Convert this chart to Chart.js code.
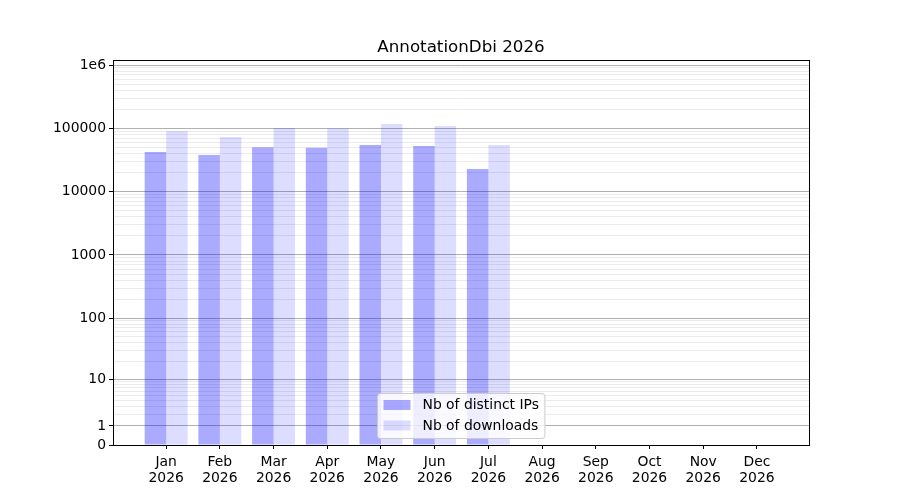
<!DOCTYPE html>
<html>
<head>
<meta charset="utf-8">
<script src="https://cdn.jsdelivr.net/npm/chart.js@4/dist/chart.umd.min.js"></script>
<style>
  html, body { margin: 0; padding: 0; background: #ffffff; }
  #wrap { width: 900px; height: 500px; }
</style>
</head>
<body>
<div id="wrap"><canvas id="c" width="900" height="500"></canvas></div>
<script>
// ---- data ----
const chartTitle = 'AnnotationDbi 2026';
const months = ['Jan', 'Feb', 'Mar', 'Apr', 'May', 'Jun', 'Jul', 'Aug', 'Sep', 'Oct', 'Nov', 'Dec'];
const yearLabel = '2026';
const distinctIPs = [42300, 37900, 50500, 49500, 54500, 52500, 22800];
const downloads = [90600, 72900, 101000, 100000, 117000, 108700, 54500];
const seriesNames = ['Nb of distinct IPs', 'Nb of downloads'];
const yMajorTicks = [0, 1, 10, 100, 1000, 10000, 100000, 1000000];
const yMajorLabels = ['0', '1', '10', '100', '1000', '10000', '100000', '1e6'];
const yMax = 1200000;

// minor grid values 2..9 x each decade
const yMinorTicks = [];
for (let d = 1; d <= 1000000; d *= 10) {
  for (let k = 2; k <= 9; k++) if (k * d <= yMax) yMinorTicks.push(k * d);
}

// ---- custom log(1+x) scale ----
class Log1pScale extends Chart.Scale {
  determineDataLimits() {
    const mm = this.getMinMax(true);
    this.min = Number.isFinite(this.options.min) ? this.options.min : Math.max(0, mm.min);
    this.max = Number.isFinite(this.options.max) ? this.options.max : mm.max;
  }
  buildTicks() {
    const all = yMajorTicks.map(v => ({ value: v, major: true }))
      .concat(yMinorTicks.map(v => ({ value: v, major: false })));
    return all.filter(t => t.value >= this.min && t.value <= this.max)
      .sort((a, b) => a.value - b.value);
  }
  configure() {
    super.configure();
    this._s = Math.log10(1 + this.min);
    this._r = Math.log10(1 + this.max) - this._s;
  }
  getLabelForValue(v) { return String(v); }
  getPixelForValue(v) {
    if (v === null || v === undefined || isNaN(v)) return NaN;
    return this.getPixelForDecimal((Math.log10(1 + Math.max(0, v)) - this._s) / this._r);
  }
  getValueForPixel(p) {
    return Math.pow(10, this._s + this.getDecimalForPixel(p) * this._r) - 1;
  }
}
Log1pScale.id = 'log1p';
Log1pScale.defaults = {};
Chart.register(Log1pScale);

const FONT = 'DejaVu Sans';

// frame + legend plugin (matplotlib style)
const framePlugin = {
  id: 'frameLegend',
  afterDraw(chart) {
    const ctx = chart.ctx;
    const a = chart.chartArea;
    ctx.save();
    ctx.strokeStyle = '#000000';
    ctx.lineWidth = 1;
    ctx.strokeRect(Math.round(a.left) + 0.5, Math.round(a.top) + 0.5,
      Math.round(a.right - a.left), Math.round(a.bottom - a.top));

    // legend
    ctx.font = '13.9px "' + FONT + '"';
    const ds = chart.data.datasets;
    let tw = 0;
    ds.forEach(d => { tw = Math.max(tw, ctx.measureText(d.label).width); });
    const padL = 6, patchW = 27, gap = 12, padR = 6;
    const w = padL + patchW + gap + tw + padR;
    const h = 45;
    const cx = (a.left + a.right) / 2;
    const x0 = Math.round(cx - w / 2) + 0.5;
    const y0 = Math.round(a.bottom - 7.5 - h) + 0.5;
    const r = 3;
    ctx.beginPath();
    ctx.moveTo(x0 + r, y0);
    ctx.lineTo(x0 + w - r, y0);
    ctx.arcTo(x0 + w, y0, x0 + w, y0 + r, r);
    ctx.lineTo(x0 + w, y0 + h - r);
    ctx.arcTo(x0 + w, y0 + h, x0 + w - r, y0 + h, r);
    ctx.lineTo(x0 + r, y0 + h);
    ctx.arcTo(x0, y0 + h, x0, y0 + h - r, r);
    ctx.lineTo(x0, y0 + r);
    ctx.arcTo(x0, y0, x0 + r, y0, r);
    ctx.closePath();
    ctx.fillStyle = 'rgba(255,255,255,0.8)';
    ctx.fill();
    ctx.strokeStyle = '#cccccc';
    ctx.stroke();
    ds.forEach((d, i) => {
      const cy = y0 + 11.5 + i * 20.5;
      ctx.fillStyle = d.backgroundColor;
      ctx.fillRect(x0 + padL, cy - 5, patchW, 10);
      ctx.fillStyle = '#000000';
      ctx.textBaseline = 'middle';
      ctx.textAlign = 'left';
      ctx.fillText(d.label, x0 + padL + patchW + gap, cy + 0.5);
    });
    ctx.restore();
  }
};

const ipPoints = distinctIPs.map((v, i) => ({ x: i, y: v }));
const dlPoints = downloads.map((v, i) => ({ x: i, y: v }));

new Chart(document.getElementById('c'), {
  type: 'bar',
  data: {
    datasets: [
      { label: seriesNames[0], data: ipPoints, backgroundColor: 'rgba(0,0,255,0.333)', borderWidth: 0,
        categoryPercentage: 0.8, barPercentage: 1.0 },
      { label: seriesNames[1], data: dlPoints, backgroundColor: 'rgba(0,0,255,0.133)', borderWidth: 0,
        categoryPercentage: 0.8, barPercentage: 1.0 }
    ]
  },
  options: {
    responsive: false,
    animation: false,
    devicePixelRatio: 1,
    layout: { padding: { left: 0, right: 91, top: 0, bottom: 0 } },
    plugins: {
      legend: { display: false },
      tooltip: { enabled: false },
      title: {
        display: true,
        fullSize: false,
        text: chartTitle,
        color: '#000000',
        font: { family: FONT, size: 16.7, weight: 'normal' },
        padding: { top: 37.5, bottom: 2.5 }
      }
    },
    scales: {
      x: {
        type: 'linear',
        min: -0.99,
        max: 11.97,
        offset: false,
        grid: { display: true, drawOnChartArea: false, offset: false, tickLength: 4,
                tickColor: '#000000', color: '#000000' },
        border: { display: true, color: '#000000', width: 1 },
        ticks: {
          autoSkip: false,
          maxRotation: 0,
          padding: 5,
          color: '#000000',
          font: { family: FONT, size: 13.9, lineHeight: 1.16 },
          callback: (value) => [months[value], yearLabel]
        },
        afterBuildTicks: (scale) => { scale.ticks = months.map((m, i) => ({ value: i })); },
        afterFit: (scale) => { scale.height = 55; }
      },
      y: {
        type: 'log1p',
        min: 0,
        max: yMax,
        grid: {
          drawTicks: true,
          tickLength: 4,
          color: (c) => (c.tick && c.tick.major) ? '#b0b0b0' : '#ebebeb',
          tickColor: (c) => (c.tick && c.tick.major) ? '#000000' : 'rgba(0,0,0,0)',
          lineWidth: 1
        },
        border: { display: true, color: '#000000', width: 1 },
        ticks: {
          autoSkip: false,
          padding: 3,
          color: '#000000',
          font: { family: FONT, size: 13.9 },
          callback: (value) => {
            const idx = yMajorTicks.indexOf(value);
            return idx >= 0 ? yMajorLabels[idx] : '';
          }
        },
        afterFit: (scale) => { scale.width = 113; }
      }
    }
  },
  plugins: [framePlugin]
});
</script>
</body>
</html>
